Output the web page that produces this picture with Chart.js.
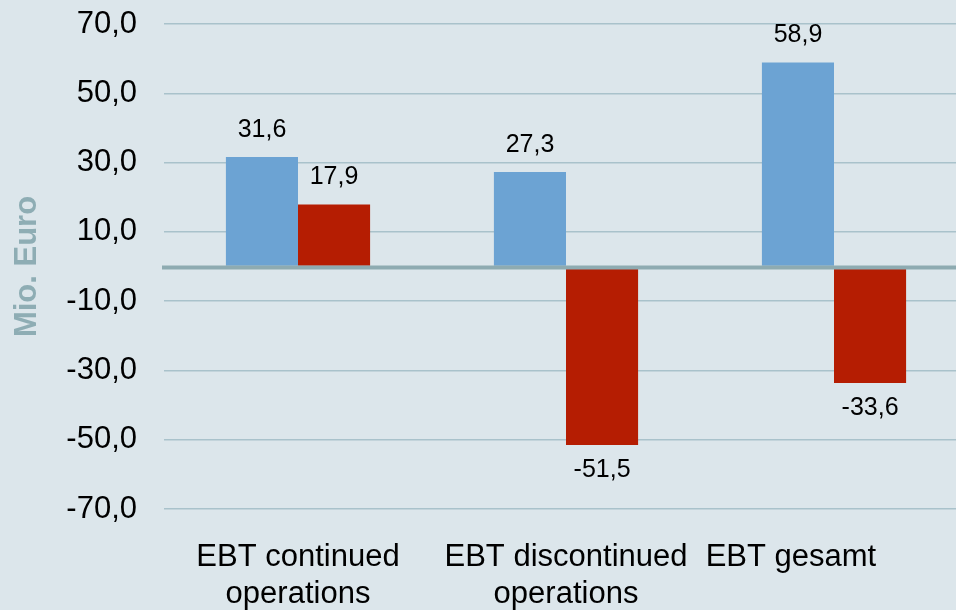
<!DOCTYPE html>
<html>
<head>
<meta charset="utf-8">
<script src="https://cdn.jsdelivr.net/npm/chart.js@4"></script>
<style>
  html, body { margin: 0; padding: 0; background: #dce6eb; overflow: hidden; }
  #wrap { width: 956px; height: 610px; overflow: hidden; }
</style>
</head>
<body>
<div id="wrap"><canvas id="c" width="968" height="610"></canvas></div>
<script>
// categories (multi line labels)
const categories = [
  ['EBT continued', 'operations'],
  ['EBT discontinued', 'operations'],
  ['EBT gesamt\u00a0\u00a0\u00a0\u00a0\u00a0\u00a0\u00a0\u00a0\u00a0\u00a0']
];
const blueValues = [31.6, 27.3, 58.9];
const redValues = [17.9, -51.5, -33.6];
const yMin = -70, yMax = 70, yStep = 10;

const fmt = v => v.toFixed(1).replace('.', ',');
const FONT = '"Liberation Sans", Arial, sans-serif';

// value labels above / below bars
const valueLabels = {
  id: 'valueLabels',
  afterDatasetsDraw(chart) {
    const ctx = chart.ctx;
    ctx.save();
    ctx.font = '25px ' + FONT;
    ctx.fillStyle = '#000';
    ctx.textAlign = 'center';
    ctx.textBaseline = 'middle';
    chart.data.datasets.forEach((ds, i) => {
      chart.getDatasetMeta(i).data.forEach((bar, j) => {
        const v = ds.data[j];
        const y = v >= 0 ? bar.y - 27 : bar.y + 25;
        ctx.fillText(fmt(v), bar.x, y);
      });
    });
    ctx.restore();
  }
};

// thick zero line over the bars
const zeroLine = {
  id: 'zeroLine',
  afterDatasetsDraw(chart) {
    const y = chart.scales.y.getPixelForValue(0);
    const ctx = chart.ctx;
    ctx.save();
    ctx.strokeStyle = '#8eabb1';
    ctx.lineWidth = 4;
    ctx.beginPath();
    ctx.moveTo(chart.chartArea.left - 2, y + 1);
    ctx.lineTo(chart.chartArea.right, y + 1);
    ctx.stroke();
    ctx.restore();
  }
};

new Chart(document.getElementById('c'), {
  type: 'bar',
  data: {
    labels: categories,
    datasets: [
      { label: 'A', data: blueValues, backgroundColor: '#6ca3d3' },
      { label: 'B', data: redValues, backgroundColor: '#b51d02' }
    ]
  },
  options: {
    responsive: false,
    animation: false,
    layout: { padding: { top: 24, right: 0, bottom: 0, left: 0 } },
    plugins: { legend: { display: false }, tooltip: { enabled: false } },
    datasets: { bar: { barPercentage: 1, categoryPercentage: 0.538 } },
    scales: {
      x: {
        afterFit(scale) {
          scale.height = 101;
          scale.paddingLeft = 0;
          scale.paddingRight = 0;
        },
        grid: { display: false },
        border: { display: false },
        ticks: {
          color: '#000',
          padding: 22,
          font: { family: FONT, size: 31 },
          maxRotation: 0,
          autoSkip: false
        }
      },
      y: {
        min: yMin,
        max: yMax,
        afterFit(scale) {
          scale.width = 164;
          scale.paddingTop = 0;
          scale.paddingBottom = 0;
        },
        border: { display: false },
        grid: {
          drawTicks: false,
          color: c => (c.tick && (c.tick.value - yMin) % 20 === 0) ? '#a9c2cb' : 'rgba(0,0,0,0)',
          lineWidth: 1.5
        },
        ticks: {
          stepSize: yStep,
          autoSkip: false,
          padding: 27,
          color: '#000',
          font: { family: FONT, size: 31 },
          callback: v => ((v - yMin) % 20 === 0) ? fmt(v) : ''
        },
        title: {
          display: true,
          text: 'Mio. Euro',
          color: '#8eadb4',
          padding: { top: 9, bottom: 0 },
          font: { family: FONT, size: 31, weight: 'bold' }
        }
      }
    }
  },
  plugins: [valueLabels, zeroLine]
});
</script>
</body>
</html>
